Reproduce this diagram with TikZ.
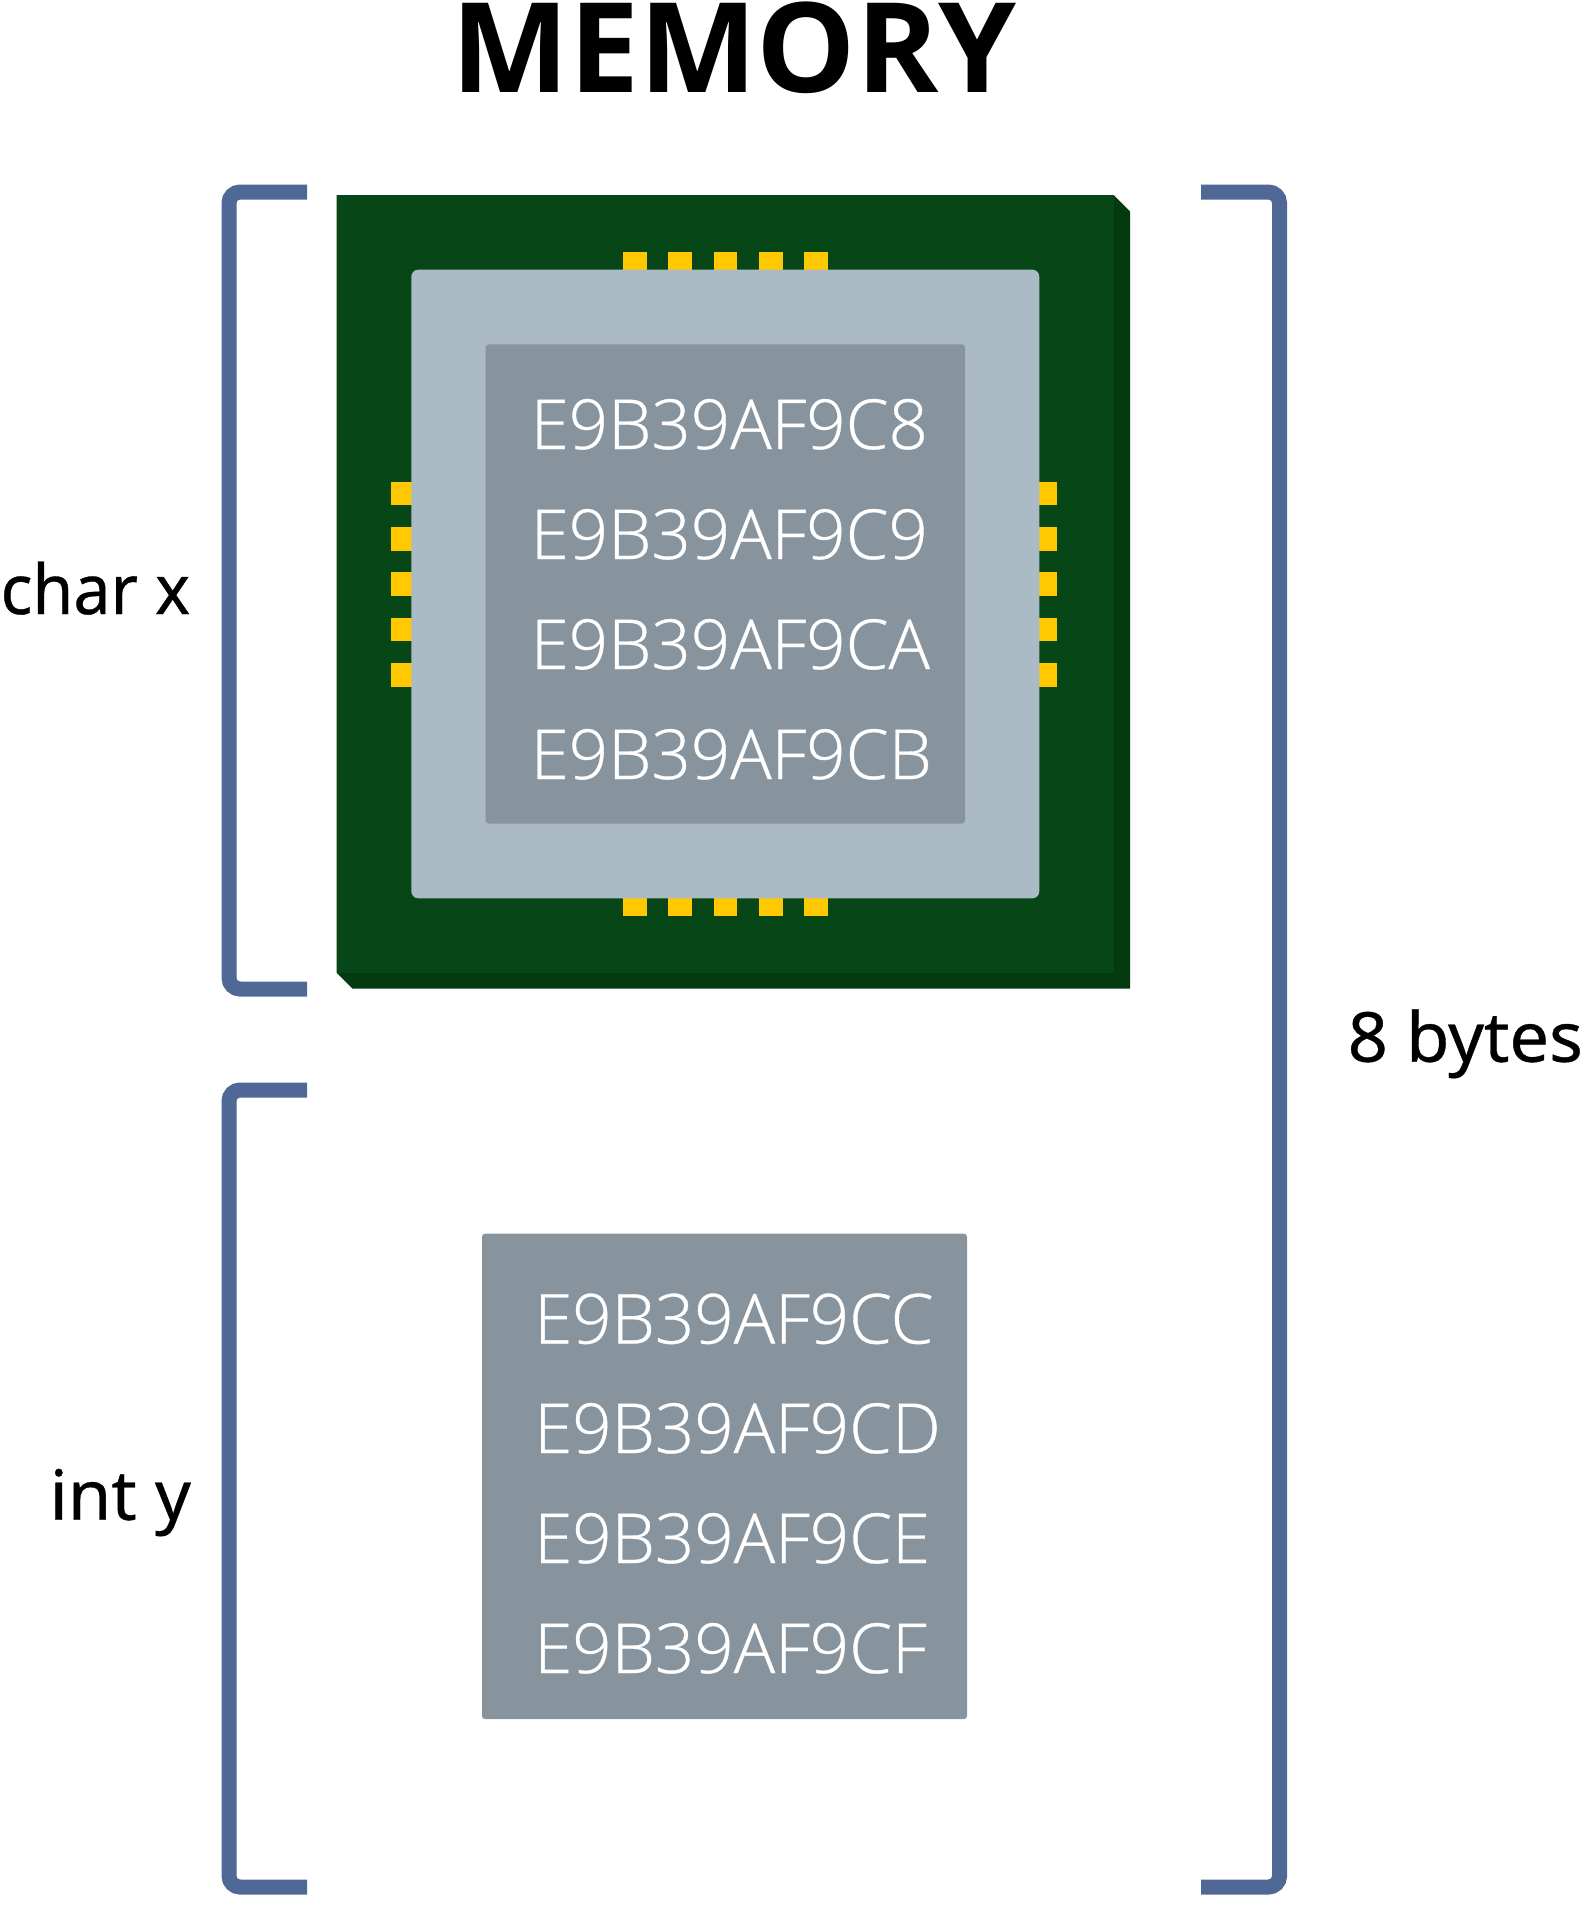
\documentclass[tikz,border=0pt]{standalone}
\usepackage{fontspec}
\setmainfont{Noto Sans}
\IfFontExistsTF{Open Sans Light}{\newfontfamily\lightf[RawFeature={embolden=0.5}]{Open Sans Light}}{\newfontfamily\lightf{Open Sans}}
\IfFontExistsTF{Open Sans Bold}{\newfontfamily\boldf{Open Sans Bold}}{\newfontfamily\boldf[RawFeature={embolden=3}]{Noto Sans}}
\newfontfamily\labn[FakeStretch=0.96,RawFeature={embolden=0.5}]{Noto Sans}
\newfontfamily\labw[FakeStretch=1.02,RawFeature={embolden=0.5}]{Noto Sans}
\definecolor{brk}{HTML}{4F6895}
\definecolor{pcb}{HTML}{074717}
\definecolor{pcbd}{HTML}{043A10}
\definecolor{pkg}{HTML}{ABBBC6}
\definecolor{die}{HTML}{88949D}
\definecolor{pin}{HTML}{FFC800}
\tikzset{
  brack/.style={draw=brk,line width=15pt,rounded corners=11pt,line cap=butt},
  addr/.style={anchor=base west,inner sep=0pt,text=white,font=\lightf\fontsize{69}{69}\selectfont},
  lbl/.style={anchor=base west,inner sep=0pt,text=black},
  pinbox/.style={fill=pin}
}
\begin{document}
\begin{tikzpicture}[x=1pt,y=-1pt]
\useasboundingbox (0,0) rectangle (1581,1922);
% title
\node[anchor=base,inner sep=0pt,font=\boldf\fontsize{125}{125}\selectfont] (title) at (734,92) {MEMORY};
% brackets
\draw[brack] (307,192) -- (229,192) -- (229,989) -- (307,989);
\draw[brack] (307,1090) -- (229,1090) -- (229,1887) -- (307,1887);
\draw[brack] (1201,192) -- (1279.5,192) -- (1279.5,1887) -- (1201,1887);
% chip
\fill[pcbd] (336.7,195.3) -- (1114,195.3) -- (1130,211.3) -- (1130,988.7) -- (352.7,988.7) -- (336.7,972.7) -- cycle;
\fill[pcb] (336.7,195.3) rectangle (1114,972.7);
% pins
\foreach \i in {0,...,4} {
  \fill[pinbox] ({623+45.3*\i},252) rectangle ({646.7+45.3*\i},272);
  \fill[pinbox] ({623+45.3*\i},896) rectangle ({646.7+45.3*\i},916);
  \fill[pinbox] (391.3,{481.7+45.3*\i}) rectangle (413,{505.4+45.3*\i});
  \fill[pinbox] (1037,{481.7+45.3*\i}) rectangle (1057.3,{505.4+45.3*\i});
}
\fill[pkg,rounded corners=7pt] (411.3,269.7) rectangle (1039.3,898.3);
\fill[die,rounded corners=3pt] (485.7,344.3) rectangle (965,823.6);
\fill[die,rounded corners=3pt] (482,1233.7) rectangle (967,1719);
% addresses
\node[addr] (a0) at (530.5,449) {E9B39AF9C8};
\node[addr] (a1) at (530.5,559) {E9B39AF9C9};
\node[addr] (a2) at (530.5,669) {E9B39AF9CA};
\node[addr] (a3) at (530.5,779) {E9B39AF9CB};
\node[addr] (b0) at (534,1343.5) {E9B39AF9CC};
\node[addr] (b1) at (534,1453) {E9B39AF9CD};
\node[addr] (b2) at (534,1563) {E9B39AF9CE};
\node[addr] (b3) at (534,1673) {E9B39AF9CF};
% labels
\node[lbl,font=\labn\fontsize{69}{69}\selectfont] (cx) at (0.5,614) {char x};
\node[lbl,font=\labw\fontsize{69}{69}\selectfont] (iy) at (49.5,1519.7) {int y};
\node[lbl,font=\labw\fontsize{69}{69}\selectfont] (by) at (1347.5,1061.7) {8 bytes};
\end{tikzpicture}
\end{document}
